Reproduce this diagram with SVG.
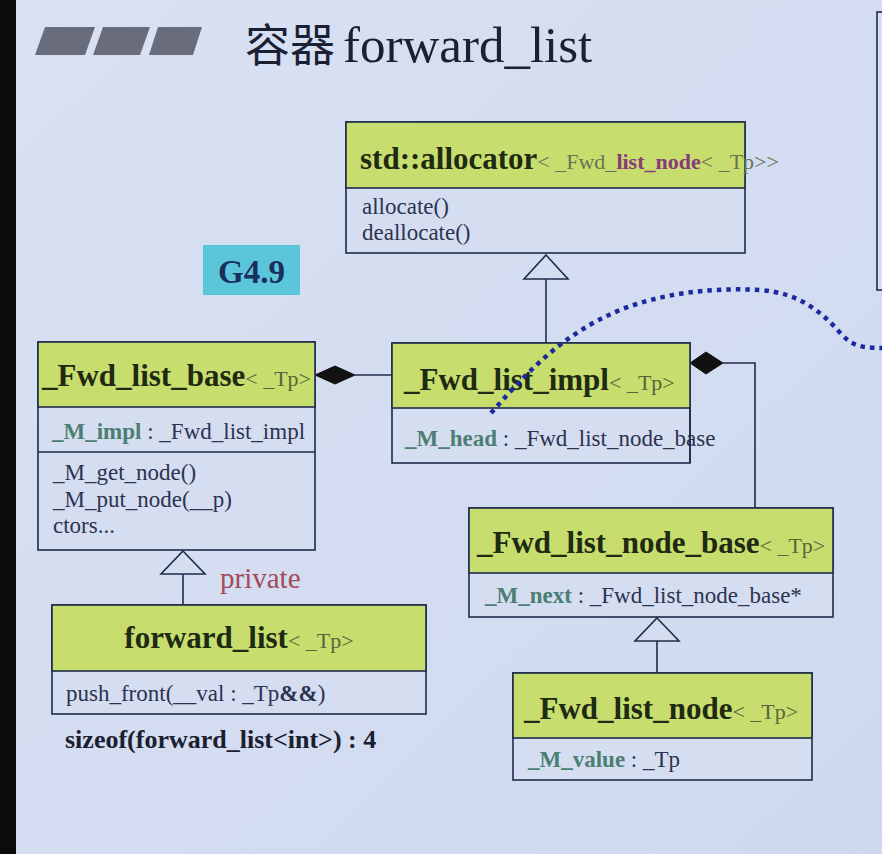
<svg xmlns="http://www.w3.org/2000/svg" width="882" height="854" viewBox="0 0 882 854">
<defs>
<linearGradient id="bg" x1="0" y1="0" x2="1" y2="1">
<stop offset="0" stop-color="#d9e1f3"/>
<stop offset="1" stop-color="#cfd9ee"/>
</linearGradient>
</defs>
<style>
text{font-family:"Liberation Serif","Noto Sans CJK SC",serif}
.box{fill:#d5ddf0;stroke:#1f2b4a;stroke-width:1.6}
.hdr{fill:#c7de6e;stroke:#1f2b4a;stroke-width:1.6}
.sep{stroke:#1f2b4a;stroke-width:1.6}
.ttl{font-size:31px;font-weight:bold;fill:#1f2a12}
.tp{font-size:22px;font-weight:normal;fill:#56663a}
.body{font-size:23px;fill:#2c3350}
.attr{font-weight:bold;fill:#4a7f72}
.ln{stroke:#1f2b4a;stroke-width:1.6;fill:none}
.tri{fill:#d5ddf0;stroke:#1f2b4a;stroke-width:1.6}
.dia{fill:#111111;stroke:#111111;stroke-width:1}
</style>
<rect x="0" y="0" width="882" height="854" fill="url(#bg)"/>
<rect x="0" y="0" width="16" height="854" fill="#0b0b0d"/>

<g id="title">
<polygon points="45,27 95,27 85,55 35,55" fill="#696d7b"/>
<polygon points="103,27 150,27 140,55 93,55" fill="#696d7b"/>
<polygon points="158,27 202,27 193,55 149,55" fill="#696d7b"/>
<text x="245" y="62" fill="#1b2133"><tspan font-size="45px" font-family="Noto Sans CJK SC, sans-serif">容器</tspan><tspan font-size="51px" dx="8">forward_list</tspan></text>
</g>

<g id="partial-box">
<rect x="877" y="12" width="20" height="278" fill="#d7dff2" stroke="#1f2b4a" stroke-width="1.6"/>
</g>

<g id="connectors">
<polygon class="tri" points="546,255 568,279 524,279"/>
<line class="ln" x1="546" y1="279" x2="546" y2="343"/>
<polygon class="dia" points="315,375 335,366 355,375 335,384"/>
<line class="ln" x1="355" y1="375" x2="392" y2="375"/>
<polygon class="dia" points="690,363 706,352 723,363 706,374"/>
<polyline class="ln" points="723,363 755,363 755,508"/>
<polygon class="tri" points="183,551 205,574 161,574"/>
<line class="ln" x1="183" y1="574" x2="183" y2="605"/>
<polygon class="tri" points="657,618 679,641 635,641"/>
<line class="ln" x1="657" y1="641" x2="657" y2="673"/>
</g>

<g id="n-allocator">
<rect class="box" x="346" y="122" width="399" height="131"/>
<rect class="hdr" x="346" y="122" width="399" height="66"/>
<text x="360" y="169" class="ttl" fill="#161c10">std::allocator<tspan font-size="22px" font-weight="normal" fill="#6b7252">&lt; _Fwd_</tspan><tspan font-size="22px" fill="#8a3a7a">list_node</tspan><tspan font-size="22px" font-weight="normal" fill="#6b7252">&lt; _Tp&gt;&gt;</tspan></text>
<text x="362" y="214" class="body">allocate()</text>
<text x="362" y="240" class="body">deallocate()</text>
</g>

<g id="n-g49">
<rect x="203" y="245" width="97" height="50" fill="#5bc6da"/>
<text x="251.5" y="283" text-anchor="middle" font-size="33px" font-weight="bold" fill="#1a2f5e">G4.9</text>
</g>

<g id="n-base">
<rect class="box" x="38" y="342" width="277" height="208"/>
<rect class="hdr" x="38" y="342" width="277" height="65"/>
<line class="sep" x1="38" y1="452" x2="315" y2="452"/>
<text x="42" y="386" class="ttl">_Fwd_list_base<tspan class="tp">&lt; _Tp&gt;</tspan></text>
<text x="52" y="439" class="body"><tspan class="attr">_M_impl</tspan> : _Fwd_list_impl</text>
<text x="53" y="480" class="body">_M_get_node()</text>
<text x="53" y="507" class="body">_M_put_node(__p)</text>
<text x="53" y="533" class="body">ctors...</text>
</g>

<g id="n-impl">
<rect class="box" x="392" y="343" width="298" height="120"/>
<rect class="hdr" x="392" y="343" width="298" height="65"/>
<text x="404" y="390" class="ttl">_Fwd_list_impl<tspan class="tp">&lt; _Tp&gt;</tspan></text>
<text x="405" y="446" class="body"><tspan class="attr">_M_head</tspan> : _Fwd_list_node_base</text>
<line class="sep" x1="690" y1="408" x2="690" y2="463"/>
</g>

<g id="n-nodebase">
<rect class="box" x="469" y="508" width="364" height="109"/>
<rect class="hdr" x="469" y="508" width="364" height="65"/>
<text x="477" y="553" class="ttl">_Fwd_list_node_base<tspan class="tp">&lt; _Tp&gt;</tspan></text>
<text x="485" y="603" class="body"><tspan class="attr">_M_next</tspan> : _Fwd_list_node_base*</text>
</g>

<g id="n-node">
<rect class="box" x="513" y="673" width="299" height="107"/>
<rect class="hdr" x="513" y="673" width="299" height="65"/>
<text x="524" y="719" class="ttl" fill="#7a2a70">_Fwd_list_node<tspan class="tp">&lt; _Tp&gt;</tspan></text>
<text x="528" y="767" class="body"><tspan class="attr">_M_value</tspan> : _Tp</text>
</g>

<g id="n-forwardlist">
<rect class="box" x="52" y="605" width="374" height="109"/>
<rect class="hdr" x="52" y="605" width="374" height="66"/>
<text x="239" y="648" text-anchor="middle" class="ttl" fill="#2b3a9e">forward_list<tspan class="tp">&lt; _Tp&gt;</tspan></text>
<text x="66" y="701" class="body">push_front(__val : _Tp<tspan font-weight="bold">&amp;&amp;</tspan>)</text>
</g>

<g id="labels">
<text x="220" y="588" font-size="29px" fill="#a4485a">private</text>
<text x="65" y="748" font-size="26px" font-weight="bold" fill="#1a2030">sizeof(forward_list&lt;int&gt;) : 4</text>
</g>

<g id="dotted-curve">
<path d="M491,413 C525,375 560,335 620,310 C660,294 710,287 760,290 C800,293 822,312 842,335 C852,345 860,348 882,348" fill="none" stroke="#1b2b9e" stroke-width="4.5" stroke-dasharray="4.5 5"/>
</g>
</svg>
